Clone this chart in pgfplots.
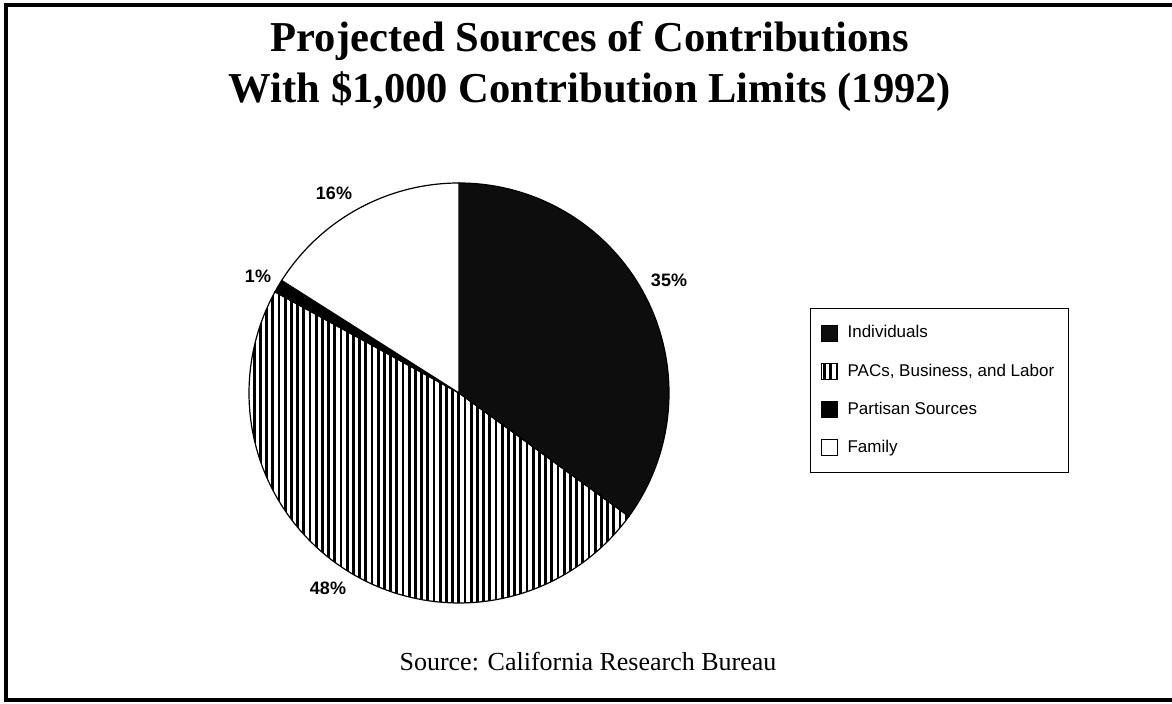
\documentclass[border=0pt]{standalone}
\usepackage{pgfplots}
\pgfplotsset{compat=1.18}
\usepackage{pgfplotstable}
\usetikzlibrary{patterns.meta}
\usepackage{fontspec}
\setmainfont{Liberation Serif}
\newfontfamily\arial{Liberation Sans}

\pgfplotstableread{
label pct
Individuals 35
PACs 48
Partisan 1
Family 16
}\piedata

\begin{document}
\begin{tikzpicture}
\pgfplotstablegetelem{0}{pct}\of\piedata \let\pA\pgfplotsretval
\pgfplotstablegetelem{1}{pct}\of\piedata \let\pB\pgfplotsretval
\pgfplotstablegetelem{2}{pct}\of\piedata \let\pC\pgfplotsretval
\pgfplotstablegetelem{3}{pct}\of\piedata \let\pD\pgfplotsretval
\pgfmathsetmacro\aA{90-3.6*\pA}
\pgfmathsetmacro\aB{\aA-3.6*\pB}
\pgfmathsetmacro\aC{\aB-3.6*\pC}
\pgfmathsetmacro\aD{\aC-3.6*\pD}
\def\cx{459}\def\cy{311}\def\R{210}
\begin{axis}[
  width=586pt, height=352pt, scale only axis,
  xmin=0, xmax=1172, ymin=0, ymax=704,
  hide axis, clip=false,
  area legend,
  legend style={at={(axis cs:810,396)}, anchor=north west, draw=black, line width=0.6pt,
    font=\arial\fontsize{8.5}{10}\selectfont, inner xsep=5pt, inner ysep=6.5pt,
    row sep=7.4pt, column sep=3pt},
  legend cell align=left,
  legend image code/.code={\draw[#1, line width=0.5pt] (0pt,-4pt) rectangle (8pt,4pt);},
]
\coordinate (BL) at (axis cs:0,0);
\coordinate (TR) at (axis cs:1172,704);
\addplot[fill=black!95, draw=black, line width=0.6pt, domain=\aA:90, samples=100, variable=\t]
  ({\cx+\R*cos(\t)},{\cy+\R*sin(\t)}) -- (axis cs:\cx,\cy) -- cycle;
\addlegendentry{Individuals}
\addplot[pattern={Lines[angle=90,distance=3.1pt,line width=1.4pt]}, pattern color=black, draw=black, line width=0.6pt, domain=\aB:\aA, samples=120, variable=\t]
  ({\cx+\R*cos(\t)},{\cy+\R*sin(\t)}) -- (axis cs:\cx,\cy) -- cycle;
\addlegendentry{PACs, Business, and Labor}
\addplot[fill=black, draw=black, line width=0.6pt, domain=\aC:\aB, samples=10, variable=\t]
  ({\cx+\R*cos(\t)},{\cy+\R*sin(\t)}) -- (axis cs:\cx,\cy) -- cycle;
\addlegendentry{Partisan Sources}
\addplot[fill=white, draw=black, line width=0.6pt, domain=\aD:\aC, samples=60, variable=\t]
  ({\cx+\R*cos(\t)},{\cy+\R*sin(\t)}) -- (axis cs:\cx,\cy) -- cycle;
\addlegendentry{Family}

% percentage labels
\node[font=\arial\bfseries\fontsize{9}{10}\selectfont] at (axis cs:669,424) {35\%};
\node[font=\arial\bfseries\fontsize{9}{10}\selectfont] at (axis cs:328,116) {48\%};
\node[font=\arial\bfseries\fontsize{9}{10}\selectfont] at (axis cs:258,428) {1\%};
\node[font=\arial\bfseries\fontsize{9}{10}\selectfont] at (axis cs:334,511) {16\%};

% title
\node[anchor=base, font=\bfseries\fontsize{21.3}{25}\selectfont, inner sep=0pt] at (axis cs:590,652) {Projected Sources of Contributions};
\node[anchor=base, font=\bfseries\fontsize{21.3}{25}\selectfont, inner sep=0pt] at (axis cs:590,601) {With \$1,000 Contribution Limits (1992)};
% source
\node[anchor=base, font=\fontsize{13}{15}\selectfont, inner sep=0pt] at (axis cs:588,33) {Source: California Research Bureau};

% frame
\draw[line width=1.6pt] (axis cs:1172,699) -- (axis cs:6,699) -- (axis cs:6,4) -- (axis cs:1172,4);
\end{axis}
\pgfresetboundingbox
\path (BL) rectangle (TR);
\end{tikzpicture}
\end{document}
